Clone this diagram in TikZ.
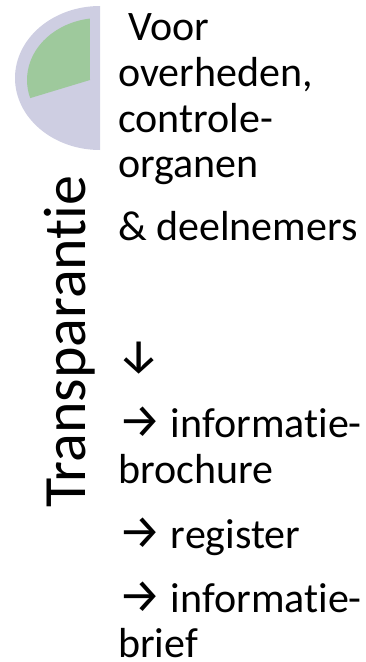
\documentclass[tikz,border=0pt]{standalone}
\usepackage{fontspec}
\setmainfont[Ligatures=NoCommon]{Carlito}
\newfontfamily\arrowfont{Fira Sans}
\definecolor{halfdisc}{RGB}{206,206,226}
\definecolor{slice}{RGB}{158,201,156}
\newcommand{\arr}[1]{{\arrowfont\fontsize{48}{46}\selectfont #1}}
\tikzset{
  line/.style={anchor=base west, inner sep=0pt, font=\fontsize{42}{46}\selectfont},
}
\begin{document}
\begin{tikzpicture}[x=1pt, y=1pt]
            \useasboundingbox (0, 0) rectangle (365, -662);
            \fill[halfdisc] (100, -6) arc[start angle=90, end angle=270, x radius=85, y radius=72] -- cycle;
            \fill[slice] (90, -80) -- (30.2, -98.1) arc[start angle=197, end angle=98, x radius=73, y radius=62] -- cycle;
            \node[rotate=90, anchor=base west, inner sep=0pt, font=\fontsize{60}{72}\selectfont] (transp) at (85, -508) {Transparantie};
            \node[line] (voor) at (128, -40) {Voor};
            \node[line] (overheden) at (118, -86) {overheden,};
            \node[line] (controle) at (118, -132) {controle-};
            \node[line] (organen) at (118, -177) {organen};
            \node[line] (deelnemers) at (118, -240) {\& deelnemers};
            \node[line] (down) at (117, -372) {\arr{↓}};
            \node[line] (brochure1) at (118, -437) {\arr{→} informatie-};
            \node[line] (brochure2) at (118, -483) {brochure};
            \node[line] (register) at (118, -548) {\arr{→} register};
            \node[line] (brief1) at (118, -612) {\arr{→} informatie-};
            \node[line] (brief2) at (118, -657) {brief};
        \end{tikzpicture}
\end{document}
